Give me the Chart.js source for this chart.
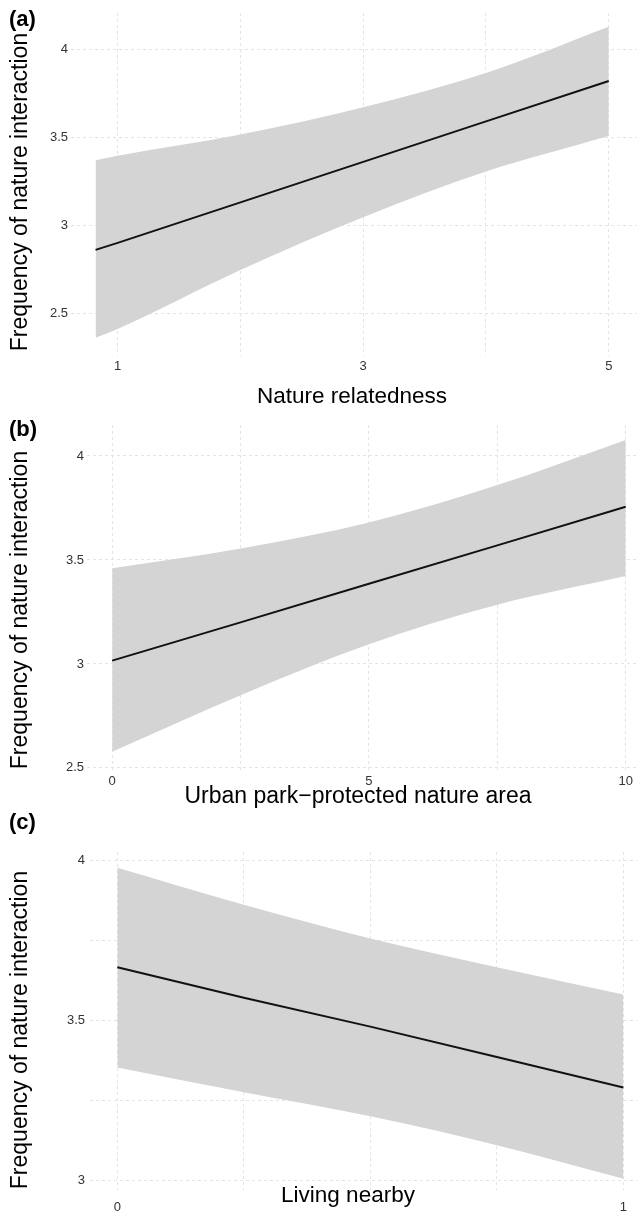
<!DOCTYPE html>
<html>
<head>
<meta charset="utf-8">
<script src="https://cdn.jsdelivr.net/npm/chart.js@4.4.1/dist/chart.umd.min.js"></script>
<style>
	body { margin: 0; background: #fff; }
	canvas { position: absolute; left: 0; }
</style>
</head>
<body>
<canvas id="panel-a" width="637" height="410" style="top:0px"></canvas>
<canvas id="panel-b" width="637" height="403" style="top:410px"></canvas>
<canvas id="panel-c" width="637" height="400" style="top:813px"></canvas>
<script>
"use strict";

const yTitle = 'Frequency of nature interaction';

// (a) nature relatedness
const natureX = [0.82, 1, 2, 3, 4, 5];
const natureFit = [2.86, 2.90, 3.13, 3.36, 3.59, 3.82];
const natureUpper = [3.37, 3.395, 3.515, 3.67, 3.865, 4.128];
const natureLower = [2.36, 2.41, 2.745, 3.045, 3.305, 3.507];
const natureXTicks = [1, 2, 3, 4, 5];
const natureXLabels = [1, 3, 5];
const natureYTicks = [2.5, 3, 3.5, 4];
const natureYLabels = [2.5, 3, 3.5, 4];

// (b) urban park - protected nature area
const parkX = [0, 2.5, 5, 7.5, 10];
const parkFit = [3.016, 3.20, 3.386, 3.57, 3.756];
const parkUpper = [3.46, 3.555, 3.68, 3.86, 4.077];
const parkLower = [2.578, 2.85, 3.095, 3.285, 3.423];
const parkXTicks = [0, 2.5, 5, 7.5, 10];
const parkXLabels = [0, 5, 10];
const parkYTicks = [2.5, 3, 3.5, 4];
const parkYLabels = [2.5, 3, 3.5, 4];

// (c) living nearby
const nearbyX = [0, 0.25, 0.5, 0.75, 1];
const nearbyFit = [3.665, 3.57, 3.48, 3.385, 3.29];
const nearbyUpper = [3.976, 3.86, 3.755, 3.665, 3.58];
const nearbyLower = [3.352, 3.275, 3.2, 3.11, 3.005];
const nearbyXTicks = [0, 0.25, 0.5, 0.75, 1];
const nearbyXLabels = [0, 1];
const nearbyYTicks = [3, 3.25, 3.5, 3.75, 4];
const nearbyYLabels = [3, 3.5, 4];


Chart.defaults.font.family = '"Liberation Sans", Arial, sans-serif';

const panelText = {
	id: 'panelText',
	afterDraw(chart, args, opts) {
		const ctx = chart.ctx;
		ctx.save();
		ctx.fillStyle = '#000';
		ctx.textBaseline = 'middle';
		ctx.font = 'bold 22px "Liberation Sans", Arial, sans-serif';
		ctx.fillText(opts.tag, 9, opts.tagY);
		ctx.font = opts.xTitleSize + 'px "Liberation Sans", Arial, sans-serif';
		ctx.textAlign = 'center';
		ctx.fillText(opts.xTitle, opts.xTitleX, opts.xTitleY);
		ctx.font = '23px "Liberation Sans", Arial, sans-serif';
		ctx.translate(21, opts.yTitleY);
		ctx.rotate(-Math.PI / 2);
		ctx.fillText(yTitle, 0, 0);
		ctx.restore();
	}
};

function points(xs, ys) {
	return xs.map((x, i) => ({x: x, y: ys[i]}));
}

function drawPanel(id, xs, fit, upper, lower, xTicks, xLabels, yTicks, yLabels, look) {
	const ctx = document.querySelector(id).getContext('2d');
	const grid = {color: '#e4e4e4', lineWidth: 1, drawTicks: false};
	const border = {display: false, dash: [3, 3]};
	new Chart(ctx, {
		type: 'line',
		data: {
			datasets: [{
				data: points(xs, upper),
				borderWidth: 0,
				pointRadius: 0,
				backgroundColor: '#d4d4d4',
				cubicInterpolationMode: 'monotone',
				fill: '+1'
			}, {
				data: points(xs, lower),
				borderWidth: 0,
				pointRadius: 0,
				cubicInterpolationMode: 'monotone',
				fill: false
			}, {
				data: points(xs, fit),
				borderColor: '#111',
				borderWidth: 2,
				pointRadius: 0,
				fill: false
			}]
		},
		options: {
			responsive: false,
			animation: false,
			events: [],
			layout: {padding: {top: look.top, left: 0, right: 0, bottom: 0}},
			plugins: {
				legend: {display: false},
				tooltip: {enabled: false},
				filler: {drawTime: 'beforeDatasetsDraw'},
				panelText: look.text
			},
			scales: {
				x: {
					type: 'linear',
					min: look.xMin,
					max: look.xMax,
					grid: grid,
					border: border,
					afterBuildTicks: (scale) => { scale.ticks = xTicks.map(v => ({value: v})); },
					afterFit: (scale) => { scale.height = look.xAxisHeight; },
					ticks: {
						autoSkip: false,
						maxRotation: 0,
						padding: look.xPad,
						color: '#333',
						font: {size: 13},
						callback: (v) => xLabels.includes(v) ? String(v) : ''
					}
				},
				y: {
					type: 'linear',
					min: look.yMin,
					max: look.yMax,
					grid: grid,
					border: border,
					afterBuildTicks: (scale) => { scale.ticks = yTicks.map(v => ({value: v})); },
					afterFit: (scale) => { scale.width = look.yAxisWidth; },
					ticks: {
						autoSkip: false,
						padding: look.yPad,
						color: '#333',
						font: {size: 13},
						callback: (v) => yLabels.includes(v) ? String(v) : ''
					}
				}
			}
		},
		plugins: [panelText]
	});
}

drawPanel('#panel-a', natureX, natureFit, natureUpper, natureLower,
	natureXTicks, natureXLabels, natureYTicks, natureYLabels, {
		top: 13, xAxisHeight: 54, yAxisWidth: 71, xPad: 3, yPad: 3,
		xMin: 0.62, xMax: 5.23, yMin: 2.257, yMax: 4.206,
		text: {tag: '(a)', tagY: 20, yTitleY: 192, xTitle: 'Nature relatedness', xTitleSize: 22.5, xTitleX: 352, xTitleY: 397}
	});

drawPanel('#panel-b', parkX, parkFit, parkUpper, parkLower,
	parkXTicks, parkXLabels, parkYTicks, parkYLabels, {
		top: 15, xAxisHeight: 43, yAxisWidth: 87, xPad: 4, yPad: 3,
		xMin: -0.49, xMax: 10.22, yMin: 2.49, yMax: 4.149,
		text: {tag: '(b)', tagY: 20, yTitleY: 200, xTitle: 'Urban park\u2212protected nature area', xTitleSize: 23, xTitleX: 358, xTitleY: 387}
	});

drawPanel('#panel-c', nearbyX, nearbyFit, nearbyUpper, nearbyLower,
	nearbyXTicks, nearbyXLabels, nearbyYTicks, nearbyYLabels, {
		top: 39, xAxisHeight: 23, yAxisWidth: 90, xPad: 10, yPad: 5,
		xMin: -0.054, xMax: 1.027, yMin: 2.97, yMax: 4.025,
		text: {tag: '(c)', tagY: 10, yTitleY: 217, xTitle: 'Living nearby', xTitleSize: 22.5, xTitleX: 348, xTitleY: 383}
	});
</script>
</body>
</html>
